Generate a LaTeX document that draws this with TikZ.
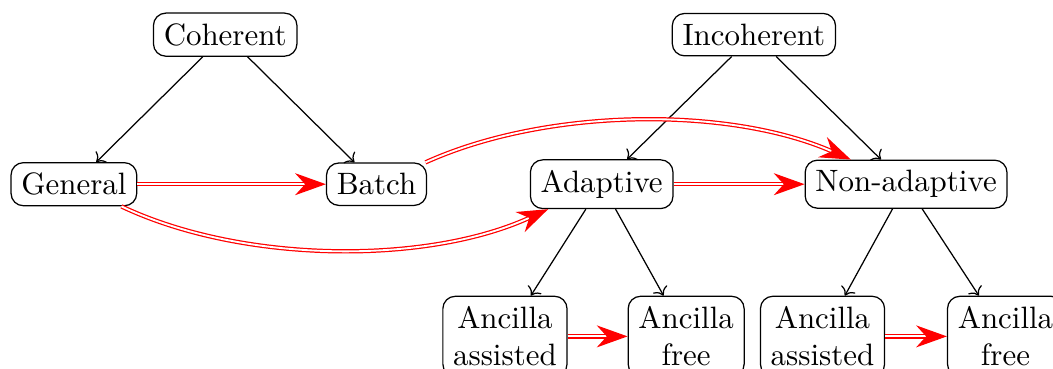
\documentclass[tikz,border=0pt]{standalone}
\usepackage{tikz}
\usetikzlibrary{arrows.meta}

\begin{document}
\begin{tikzpicture}[box/.style={draw,rounded corners,align=center},
  imp/.style={double,draw=red,-{Stealth[length=3.5mm,width=2.5mm]}}]
\useasboundingbox (0,0) rectangle (11.97,4.184);
\node[box] (coh) at (2.56,3.79) {Coherent};
\node[box] (inc) at (8.57,3.79) {Incoherent};
\node[box] (gen) at (0.84,2.09) {General};
\node[box] (bat) at (4.28,2.09) {Batch};
\node[box] (ada) at (6.84,2.09) {Adaptive};
\node[box] (nad) at (10.30,2.09) {Non-adaptive};
\node[box] (aas) at (5.74,0.36) {Ancilla\\assisted};
\node[box] (afr) at (7.80,0.36) {Ancilla\\free};
\node[box] (nas) at (9.35,0.36) {Ancilla\\assisted};
\node[box] (nfr) at (11.43,0.36) {Ancilla\\free};
\draw[->] (coh) -- (gen);
\draw[->] (coh) -- (bat);
\draw[->] (inc) -- (ada);
\draw[->] (inc) -- (nad);
\draw[->] (ada) -- (aas);
\draw[->] (ada) -- (afr);
\draw[->] (nad) -- (nas);
\draw[->] (nad) -- (nfr);
\draw[imp] (gen) -- (bat);
\draw[imp] (gen) to[bend right=25,looseness=0.8] (ada);
\draw[imp] (bat) to[bend left=24,looseness=0.8] (nad);
\draw[imp] (ada) -- (nad);
\draw[imp] (aas) -- (afr);
\draw[imp] (nas) -- (nfr);
\end{tikzpicture}
\end{document}
